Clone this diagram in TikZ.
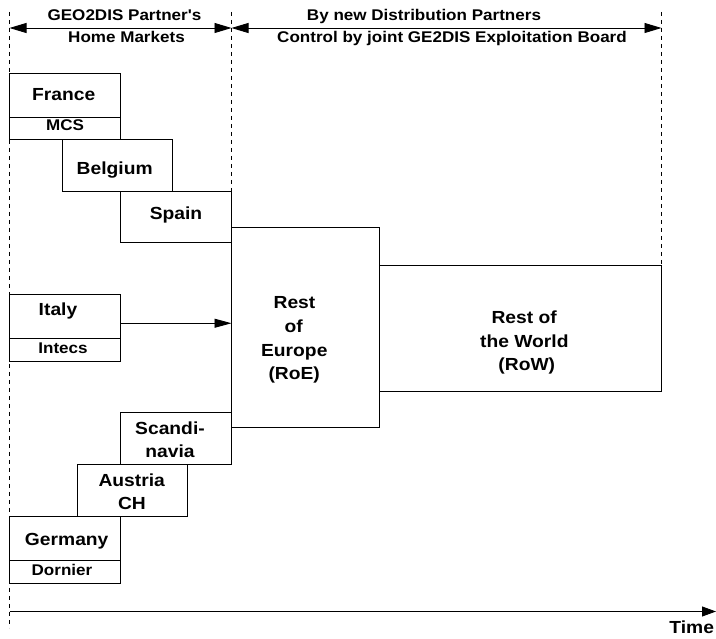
\documentclass[tikz,border=0pt]{standalone}
\usepackage{fontspec}
\setmainfont{Liberation Sans}[FakeStretch=1.1, Ligatures=TeXOff]
\usetikzlibrary{arrows.meta}

\tikzset{
  every picture/.style={line width=0.9pt},
  box/.style={draw=black, rectangle, inner sep=0pt, outer sep=0pt},
  guide/.style={draw=black, line width=0.8pt, dash pattern=on 4pt off 4pt},
  lab/.style={inner sep=0pt, anchor=base, font=\fontsize{17.5}{21}\selectfont\bfseries},
  sublab/.style={inner sep=0pt, anchor=base, font=\fontsize{15.5}{19}\selectfont\bfseries},
  headlab/.style={inner sep=0pt, anchor=base, font=\fontsize{15.5}{19}\selectfont\bfseries},
  span/.style={{Triangle[length=17pt,width=10pt]}-{Triangle[length=17pt,width=10pt]}},
  arr/.style={-{Triangle[length=17pt,width=9pt]}},
  timearr/.style={-{Triangle[length=14pt,width=10pt]}}
}

\begin{document}
\begin{tikzpicture}[x=1pt, y=-1pt]
\useasboundingbox (0,0) rectangle (716,639);

% country and region boxes
\node[box, minimum width=111pt, minimum height=44pt]   (france)  at (65,95)      {};
\node[box, minimum width=111pt, minimum height=22pt]   (mcs)     at (65,128)     {};
\node[box, minimum width=110.5pt, minimum height=52pt] (belgium) at (117.25,165) {};
\node[box, minimum width=111pt, minimum height=51.5pt] (spain)   at (176,216.75) {};
\node[box, minimum width=111pt, minimum height=44.5pt] (italy)   at (65,316.25)  {};
\node[box, minimum width=111pt, minimum height=22.5pt] (intecs)  at (65,349.75)  {};
\node[box, minimum width=148pt, minimum height=200pt]  (roe)     at (305.5,327.5){};
\node[box, minimum width=282pt, minimum height=126pt]  (row)     at (520.5,328)  {};
\node[box, minimum width=111pt, minimum height=52pt]   (scand)   at (176,438.5)  {};
\node[box, minimum width=110pt, minimum height=52pt]   (austria) at (132,490.5)  {};
\node[box, minimum width=111pt, minimum height=43.5pt] (germany) at (65,538.25)  {};
\node[box, minimum width=111pt, minimum height=23pt]   (dornier) at (65,571.5)   {};

% phase boundaries
\coordinate (lt) at (9.5,12);
\coordinate (lb) at (9.5,628);
\coordinate (mt) at (231.5,12);
\coordinate (rt) at (661.5,12);
\draw[guide] (lt) -- (lb);
\draw[guide] (mt) -- (spain.north east);
\draw[guide] (rt) -- (row.north east);

% phase spans
\coordinate (hl) at (9.5,28);
\coordinate (hm) at (231.5,28);
\coordinate (hr) at (661.5,28);
\draw[span] (hl) -- (hm);
\draw[span] (hm) -- (hr);
\node[headlab] (h1a) at (124.5,20.7) {GEO2DIS Partner's};
\node[headlab] (h1b) at (126.5,42.7) {Home Markets};
\node[headlab] (h2a) at (424,20.7)   {By new Distribution Partners};
\node[headlab] (h2b) at (452,42.7)   {Control by joint GE2DIS Exploitation Board};

% box texts
\node[lab]    (tfrance)  at (63.7,101)  {France};
\node[sublab] (tmcs)     at (65,131)    {MCS};
\node[lab]    (tbelgium) at (114.7,175) {Belgium};
\node[lab]    (tspain)   at (176,220)   {Spain};
\node[lab]    (titaly)   at (58,316)    {Italy};
\node[sublab] (tintecs)  at (63,353.3)  {Intecs};
\node[lab]    (tscand1)  at (170,435)   {Scandi-};
\node[lab]    (tscand2)  at (170,457.3) {navia};
\node[lab]    (taus1)    at (131.7,486) {Austria};
\node[lab]    (taus2)    at (132,509.3) {CH};
\node[lab]    (tgermany) at (66.7,545)  {Germany};
\node[sublab] (tdornier) at (62,575)    {Dornier};
\node[lab]    (troe1)    at (294.5,308.3) {Rest};
\node[lab]    (troe2)    at (293.8,332.7) {of};
\node[lab]    (troe3)    at (294.3,356.7) {Europe};
\node[lab]    (troe4)    at (294.2,380)   {(RoE)};
\node[lab]    (trow1)    at (524.2,324)   {Rest of};
\node[lab]    (trow2)    at (524.3,347.7) {the World};
\node[lab]    (trow3)    at (526.8,370.7) {(RoW)};

% Italy feeds the rest of Europe
\draw[arr] ([yshift=-7pt]italy.east) -- ([yshift=-7pt]italy.east -| roe.west);

% time axis
\coordinate (t0) at (9.5,611.5);
\coordinate (t1) at (716,611.5);
\draw[timearr] (t0) -- (t1);
\node[lab] (ttime) at (691.7,633.3) {Time};
\end{tikzpicture}
\end{document}
